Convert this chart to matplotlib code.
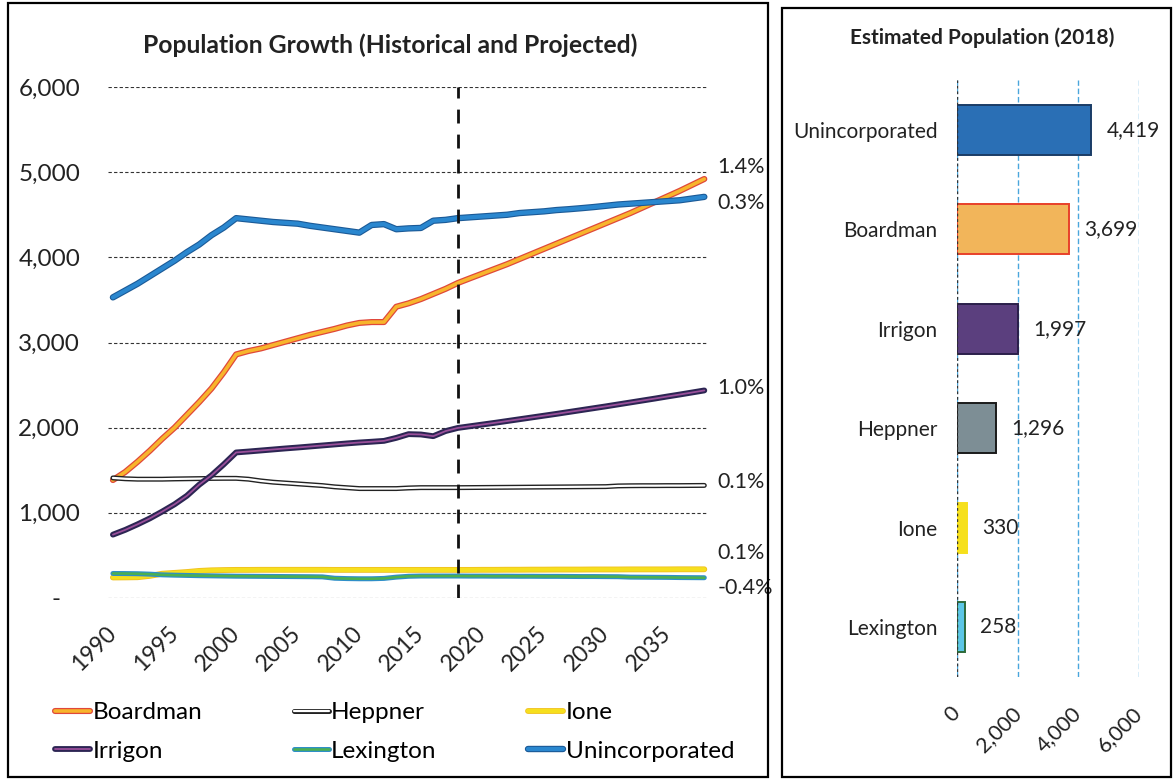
import matplotlib
matplotlib.use('Agg')
import matplotlib.pyplot as plt
import matplotlib.patheffects as pe
from matplotlib.patches import Rectangle

plt.rcParams['font.family'] = ['Lato', 'DejaVu Sans']

# ---- data ----
years = list(range(1990, 2039))

boardman = [1385, 1480, 1600, 1730, 1870, 2000, 2150, 2300, 2460, 2650,
            2860, 2900, 2930, 2970, 3010, 3050, 3090, 3125, 3160, 3200,
            3230, 3240, 3240, 3420, 3460, 3510, 3570, 3630, 3699, 3755,
            3810, 3865, 3920, 3980, 4040, 4100, 4160, 4220, 4280, 4340,
            4400, 4460, 4520, 4585, 4650, 4715, 4780, 4850, 4920]
heppner = [1410, 1400, 1395, 1395, 1395, 1398, 1400, 1402, 1404, 1405,
           1405, 1395, 1375, 1360, 1350, 1340, 1330, 1320, 1305, 1295,
           1285, 1285, 1285, 1285, 1292, 1296, 1296, 1296, 1296, 1297,
           1298, 1299, 1300, 1301, 1302, 1303, 1304, 1305, 1306, 1307,
           1308, 1316, 1318, 1319, 1319, 1320, 1320, 1321, 1322]
ione = [241, 242, 244, 260, 285, 295, 305, 318, 325, 328,
        330, 330, 331, 331, 331, 331, 331, 331, 330, 330,
        330, 330, 330, 330, 330, 330, 330, 330, 330, 330,
        331, 331, 332, 332, 333, 333, 334, 334, 334, 335,
        335, 335, 336, 336, 336, 336, 337, 337, 337]
irrigon = [744, 800, 865, 935, 1015, 1100, 1200, 1330, 1440, 1570,
           1709, 1720, 1732, 1744, 1756, 1767, 1779, 1791, 1803, 1815,
           1826, 1835, 1845, 1880, 1924, 1920, 1900, 1960, 1997, 2017,
           2037, 2057, 2078, 2099, 2120, 2141, 2162, 2184, 2206, 2228,
           2250, 2273, 2296, 2319, 2342, 2366, 2389, 2413, 2437]
lexington = [288, 287, 285, 280, 272, 268, 265, 262, 260, 258,
             256, 255, 254, 253, 252, 251, 250, 248, 232, 228,
             226, 226, 230, 245, 255, 258, 258, 258, 258, 257,
             257, 256, 256, 255, 255, 254, 254, 253, 252, 252,
             251, 250, 245, 244, 243, 242, 240, 239, 238]
unincorporated = [3530, 3610, 3690, 3780, 3870, 3960, 4060, 4150, 4260, 4350,
                  4460, 4445, 4430, 4415, 4405, 4395, 4370, 4350, 4330, 4310,
                  4290, 4380, 4390, 4330, 4340, 4345, 4430, 4440, 4460, 4470,
                  4480, 4490, 4500, 4520, 4530, 4540, 4555, 4565, 4577, 4590,
                  4605, 4620, 4630, 4640, 4650, 4660, 4670, 4690, 4710]

series_names = ['Boardman', 'Heppner', 'Ione', 'Irrigon', 'Lexington', 'Unincorporated']
series_vals = [boardman, heppner, ione, irrigon, lexington, unincorporated]
growth = ['1.4%', '0.1%', '0.1%', '1.0%', '-0.4%', '0.3%']
est_year = 2018

bar_towns = ['Unincorporated', 'Boardman', 'Irrigon', 'Heppner', 'Ione', 'Lexington']
bar_pop = [4419, 3699, 1997, 1296, 330, 258]

# ---- styles ----
# name: (inner color, inner lw, outline color, outline lw)
line_style = {
    'Boardman': ('#f7b52c', 2.6, '#e0483a', 4.4),
    'Heppner': ('#ffffff', 1.6, '#222222', 3.6),
    'Ione': ('#f6df1e', 3.0, '#f0c020', 4.2),
    'Irrigon': ('#9a4f9a', 1.3, '#2c2553', 4.2),
    'Lexington': ('#4cb050', 1.8, '#2f8fc8', 3.6),
    'Unincorporated': ('#2a87cf', 3.0, '#1b5a97', 4.6),
}
label_dy = {'Boardman': -12, 'Heppner': -3, 'Ione': -16,
            'Irrigon': -2, 'Lexington': 10, 'Unincorporated': 6}
bar_fill = ['#2a6fb5', '#f2b55a', '#5b3f7e', '#7d8e95', '#f6e01c', '#5cc6e6']
bar_edge = ['#1a3c66', '#e8402a', '#2a1f4a', '#1a1a1a', '#f6e01c', '#2d6a3a']

W, H = 1174, 780


def box(x0, y0, x1, y1):
    # pixel box (top-left origin) -> figure fraction rect
    return [x0 / W, 1 - y1 / H, (x1 - x0) / W, (y1 - y0) / H]


fig = plt.figure(figsize=(W / 100, H / 100), dpi=100)

# panel frames
for x0, y0, x1, y1 in [(8, 3, 768, 777), (782, 8, 1171, 777)]:
    fig.patches.append(Rectangle((x0 / W, 1 - y1 / H), (x1 - x0) / W, (y1 - y0) / H,
                                 transform=fig.transFigure, fill=False,
                                 lw=1.6, ec='black'))

# ---- left: line chart ----
ax = fig.add_axes(box(108, 87, 708, 598))
handles = {}
for name, vals in zip(series_names, series_vals):
    c, lw, oc, olw = line_style[name]
    ln, = ax.plot(years, vals, color=c, lw=lw, label=name,
                  solid_capstyle='round', solid_joinstyle='round',
                  path_effects=[pe.Stroke(linewidth=olw, foreground=oc), pe.Normal()])
    handles[name] = ln

for name, vals, g in zip(series_names, series_vals, growth):
    ax.annotate(g, xy=(years[-1], vals[-1]), xytext=(13, -label_dy[name]),
                textcoords='offset pixels', ha='left', va='center',
                fontsize=15.5, color='#222222', annotation_clip=False)

ax.axvline(est_year, color='#111111', lw=2, ls=(0, (5, 4)))

ax.set_xlim(1989.6, 2038.3)
ax.set_ylim(0, 6000)
ax.set_yticks(range(0, 6001, 1000))
ax.set_yticklabels(['-   '] + [f'{v:,}' for v in range(1000, 6001, 1000)], fontsize=17.5)
ax.set_xticks(range(1990, 2036, 5))
ax.set_xticklabels([str(y) for y in range(1990, 2036, 5)], fontsize=16.5,
                   rotation=45, ha='right', va='center', rotation_mode='anchor')
ax.tick_params(axis='both', length=0, colors='#222222')
ax.tick_params(axis='y', pad=20)
ax.tick_params(axis='x', pad=23)
ax.yaxis.grid(True, color='#333333', lw=0.8, ls=(0, (3, 2)))
ax.set_axisbelow(True)
for s in ax.spines.values():
    s.set_visible(False)

fig.text(390 / W, 1 - 45 / H, 'Population Growth (Historical and Projected)',
         ha='center', va='center', fontsize=17.8, fontweight='bold', color='#222222')

order = ['Boardman', 'Irrigon', 'Heppner', 'Lexington', 'Ione', 'Unincorporated']
fig.legend([handles[n] for n in order], order, ncol=3, loc='upper left',
           bbox_to_anchor=(55 / W, 1 - 702 / H), frameon=False, fontsize=17.5,
           handlelength=1.45, handletextpad=0.1, columnspacing=3.75,
           labelspacing=0.72, borderpad=0, borderaxespad=0)

# ---- right: bar chart ----
ax2 = fig.add_axes(box(957, 80, 1139, 677))
ypos = list(range(len(bar_towns)))
bars = ax2.barh(ypos, bar_pop, height=0.5, color=bar_fill, edgecolor=bar_edge, lw=1.4)
ax2.bar_label(bars, labels=[f'{v:,}' for v in bar_pop], padding=11, fontsize=15,
              color='#222222')
ax2.set_yticks(ypos)
ax2.set_yticklabels(bar_towns, fontsize=15)
ax2.set_ylim(-0.5, len(bar_towns) - 0.5)
ax2.invert_yaxis()
ax2.set_xlim(0, 6000)
ax2.set_xticks([0, 2000, 4000, 6000])
ax2.set_xticklabels(['0', '2,000', '4,000', '6,000'], fontsize=15.5,
                    rotation=45, ha='right', va='center', rotation_mode='anchor')
ax2.tick_params(axis='both', length=0, colors='#222222')
ax2.tick_params(axis='y', pad=14)
ax2.tick_params(axis='x', pad=24)
ax2.xaxis.grid(True, color='#4aa6dc', lw=1.0, ls=(0, (4, 2)))
ax2.axvline(0, color='#333333', lw=1.0, ls=(0, (2, 2)))
ax2.set_axisbelow(True)
for s in ax2.spines.values():
    s.set_visible(False)

fig.text(982 / W, 1 - 38 / H, 'Estimated Population (2018)',
         ha='center', va='center', fontsize=15, fontweight='bold', color='#222222')

fig.savefig('out.png', dpi=100)
